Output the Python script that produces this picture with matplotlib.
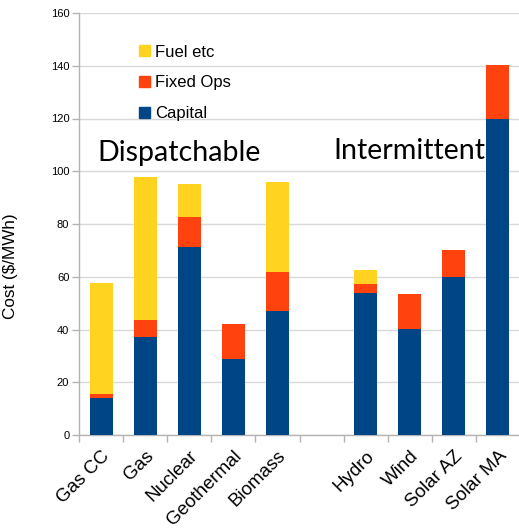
import numpy as np
import matplotlib
matplotlib.use("Agg")
import matplotlib.pyplot as plt
from matplotlib.patches import Patch

plt.rcParams['font.family'] = ['Liberation Sans', 'DejaVu Sans']

# Dados, dois grupos separados por uma coluna vazia
dispatchable = ['Gas CC', 'Gas', 'Nuclear', 'Geothermal', 'Biomass']
intermittent = ['Hydro', 'Wind', 'Solar AZ', 'Solar MA']
capital   = [14.0, 37.0, 71.2, 28.9, 46.9, 53.7, 40.1, 59.8, 120.0]
fixed_ops = [1.4, 6.5, 11.6, 13.3, 15.0, 3.4, 13.2, 10.3, 20.2]
fuel_etc  = [42.1, 54.2, 12.2, 0.0, 34.1, 5.5, 0.0, 0.0, 0.0]
y_ticks = [0, 20, 40, 60, 80, 100, 120, 140, 160]

c_capital = '#004586'
c_fixed = '#ff420e'
c_fuel = '#ffd320'
grid_c = '#d9d9d9'
axis_c = '#b3b3b3'

categories = dispatchable + intermittent
x = np.r_[np.arange(len(dispatchable)),
          np.arange(len(intermittent)) + len(dispatchable) + 1]
n_slots = len(categories) + 1

capital = np.array(capital)
fixed_ops = np.array(fixed_ops)
fuel_etc = np.array(fuel_etc)

fig = plt.figure(figsize=(5.19, 5.28), dpi=100)
ax = fig.add_axes([79/519, 1 - 435/528, 441/519, 422/528])

w = 0.52
ax.bar(x, capital, w, color=c_capital, zorder=3)
ax.bar(x, fixed_ops, w, bottom=capital, color=c_fixed, zorder=3)
ax.bar(x, fuel_etc, w, bottom=capital + fixed_ops, color=c_fuel, zorder=3)

ax.set_xlim(-0.5, n_slots - 0.5)
ax.set_ylim(0, 160)
ax.set_yticks(y_ticks)
ax.yaxis.grid(True, color=grid_c, linewidth=1.0, zorder=0)
ax.set_axisbelow(True)

for s in ['top', 'right']:
    ax.spines[s].set_visible(False)
for s in ['left', 'bottom']:
    ax.spines[s].set_color(axis_c)
    ax.spines[s].set_linewidth(1.0)

ax.set_xticks(x)
ax.set_xticklabels(categories, rotation=45, ha='right', va='top',
                   rotation_mode='anchor', fontsize=13.5)
ax.set_xticks(np.arange(n_slots + 1) - 0.5, minor=True)
ax.tick_params(axis='x', which='major', length=0, pad=9)
ax.tick_params(axis='x', which='minor', length=5, color=axis_c, width=1)
ax.tick_params(axis='y', length=5, color=axis_c, width=1, labelsize=8, pad=2)

ax.set_ylabel('Cost ($/MWh)', fontsize=12.3)
ax.yaxis.set_label_coords(-0.138, 0.40)

ax.text(1.76, 107, 'Dispatchable', fontsize=20.6, family='Lato',
        ha='center', va='center')
ax.text(7.0, 107.5, 'Intermittent', fontsize=20.6, family='Lato',
        ha='center', va='center')

handles = [Patch(color=c_fuel, label='Fuel etc'),
           Patch(color=c_fixed, label='Fixed Ops'),
           Patch(color=c_capital, label='Capital')]
ax.legend(handles=handles, loc='upper left', bbox_to_anchor=(0.136, 0.925),
          frameon=False, fontsize=12, handlelength=0.65, handleheight=0.65,
          handletextpad=0.3, labelspacing=0.95, borderpad=0, borderaxespad=0)

fig.savefig('out.png', dpi=100)
